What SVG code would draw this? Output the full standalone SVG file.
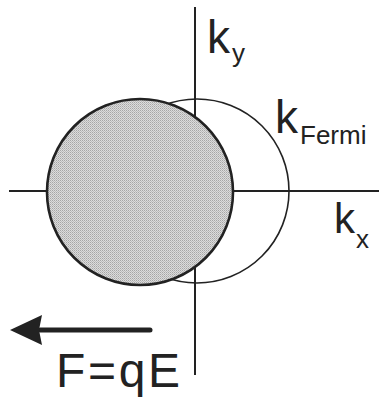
<svg xmlns="http://www.w3.org/2000/svg" width="379" height="399" viewBox="0 0 379 399">
<style>
.axis{stroke:#222;stroke-width:2;fill:none}
.fermi{stroke:#222;stroke-width:1.6;fill:none}
.shifted{stroke:#222;stroke-width:2.6;fill:url(#dots)}
.lbl{font-family:"Liberation Sans",Arial,sans-serif;fill:#222}
</style>
<defs>
<pattern id="dots" width="2" height="2" patternUnits="userSpaceOnUse">
<rect width="2" height="2" fill="#dcdcdc"/>
<rect width="1" height="1" fill="#a6a6a6"/>
<rect x="1" y="1" width="1" height="1" fill="#bcbcbc"/>
</pattern>
</defs>
<g id="connectors">
<line id="ky-axis" class="axis" x1="195" y1="7" x2="195" y2="375"/>
<line id="kx-axis" class="axis" x1="9" y1="191" x2="379" y2="191"/>
</g>
<g id="fermi-circle">
<circle class="fermi" cx="197" cy="191" r="92"/>
</g>
<g id="shifted-circle">
<circle class="shifted" cx="140" cy="192" r="93"/>
</g>
<g id="force-arrow">
<line x1="150" y1="330" x2="40" y2="330" stroke="#222" stroke-width="5" stroke-linecap="round"/>
<path d="M10,330 L42,315 L39,330 L42,345 Z" fill="#222"/>
</g>
<g id="label-ky">
<text class="lbl" x="207" y="53" font-size="46">k</text>
<text class="lbl" x="232" y="62" font-size="26">y</text>
</g>
<g id="label-kfermi">
<text class="lbl" x="275" y="133" font-size="46">k</text>
<text class="lbl" x="300" y="144" font-size="26">Fermi</text>
</g>
<g id="label-kx">
<text class="lbl" x="334" y="233" font-size="42">k</text>
<text class="lbl" x="356" y="248" font-size="26">x</text>
</g>
<g id="label-force">
<text class="lbl" x="56" y="387" font-size="48" textLength="124" lengthAdjust="spacing">F=qE</text>
</g>
</svg>
